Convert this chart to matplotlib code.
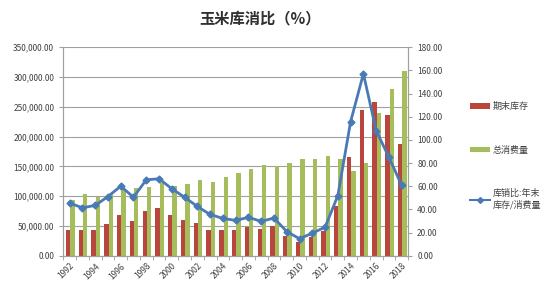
import matplotlib
matplotlib.use("Agg")
import matplotlib.pyplot as plt
import numpy as np
from matplotlib.ticker import FuncFormatter, FixedLocator
from matplotlib.lines import Line2D
from matplotlib.patches import Patch

plt.rcParams['font.family'] = ['Noto Sans CJK SC', 'DejaVu Sans']

years = list(range(1992, 2019))
stock = [42800, 42800, 42800, 52800, 68000, 58400, 75000, 81000, 68000, 60700,
         54500, 44000, 42800, 42800, 48000, 45600, 49500, 32700, 23000, 31500,
         42000, 83000, 166000, 244000, 258000, 237000, 188000]
consumption = [94000, 103000, 99000, 104000, 112000, 114000, 115000, 122000, 117000, 121000,
               127000, 124000, 132000, 139000, 145000, 153000, 150000, 155000, 163000, 163000,
               167000, 162000, 143000, 155000, 240000, 280000, 310000]
ratio = [45.5, 41.5, 43.5, 51.2, 60.1, 50.6, 65.6, 66.5, 57.9, 50.6,
         42.6, 35.7, 32.3, 30.6, 33.2, 29.8, 32.6, 21.0, 14.8, 19.6,
         24.8, 52.0, 115.8, 157.0, 108.0, 85.0, 60.7]

title = "玉米库消比（%）"
label_stock = "期末库存"
label_cons = "总消费量"
label_ratio = "库销比:年末\n库存/消费量"

red = '#B8463C'
green = '#A6BD5C'
blue = '#4A7AB5'
grid_c = '#A0A0A0'
txt_c = '#404040'

fig = plt.figure(figsize=(5.5, 3.0), dpi=100)
ax = fig.add_axes([0.115, 0.147, 0.627, 0.696])
ax2 = ax.twinx()

x = np.arange(len(years))
w = 0.34
ax.bar(x - w / 2 + 0.05, stock, width=w, color=red, zorder=2)
ax.bar(x + w / 2 + 0.05, consumption, width=w, color=green, zorder=2)

ax.set_xlim(-0.5, len(years) - 0.5)
ax.set_ylim(0, 350000)
ax.set_yticks(np.arange(0, 350001, 50000))
ax.yaxis.set_major_formatter(FuncFormatter(lambda v, p: f"{v:,.2f}"))
ax.grid(axis='y', color=grid_c, linewidth=0.8, zorder=0)
ax.set_axisbelow(True)

ax2.plot(x, ratio, color=blue, linewidth=2, marker='D', markersize=3.5,
         markerfacecolor=blue, markeredgecolor=blue, zorder=5)
ax2.set_ylim(0, 180)
ax2.set_yticks(np.arange(0, 181, 20))
ax2.yaxis.set_major_formatter(FuncFormatter(lambda v, p: f"{v:.2f}"))

ax.set_xticks(x[::2])
ax.set_xticklabels([str(y) for y in years[::2]], rotation=45, ha='right',
                   rotation_mode='anchor', fontsize=6, color=txt_c)
ax.xaxis.set_minor_locator(FixedLocator(np.arange(-0.5, len(years), 1)))
ax.tick_params(axis='x', which='major', length=0, pad=4)
ax.tick_params(axis='x', which='minor', length=3, color=grid_c)
ax.tick_params(axis='y', length=3, color=grid_c, labelsize=6, labelcolor=txt_c)
ax2.tick_params(axis='y', length=3, color=grid_c, labelsize=6, labelcolor=txt_c)

for a in (ax, ax2):
    a.spines['top'].set_visible(False)
    for s in ('left', 'right', 'bottom'):
        a.spines[s].set_color(grid_c)

fig.text(0.473, 0.94, title, ha='center', va='center', fontsize=11,
         fontweight='bold', color='#303030')

entries = [
    (Patch(facecolor=red, edgecolor='none'), label_stock, 1 - 106.7 / 300),
    (Patch(facecolor=green, edgecolor='none'), label_cons, 1 - 150 / 300),
    (Line2D([0], [0], color=blue, marker='D', markersize=3, linewidth=1.5), label_ratio, 1 - 199 / 300),
]
for h, lab, yc in entries:
    leg = fig.legend([h], [lab], loc='center left', bbox_to_anchor=(470 / 550, yc),
                     frameon=False, fontsize=6.5, borderpad=0, borderaxespad=0,
                     handlelength=2.2, handleheight=0.5, handletextpad=0.35)
    for t in leg.get_texts():
        t.set_color(txt_c)

fig.savefig("out.png", dpi=100, facecolor='white')
